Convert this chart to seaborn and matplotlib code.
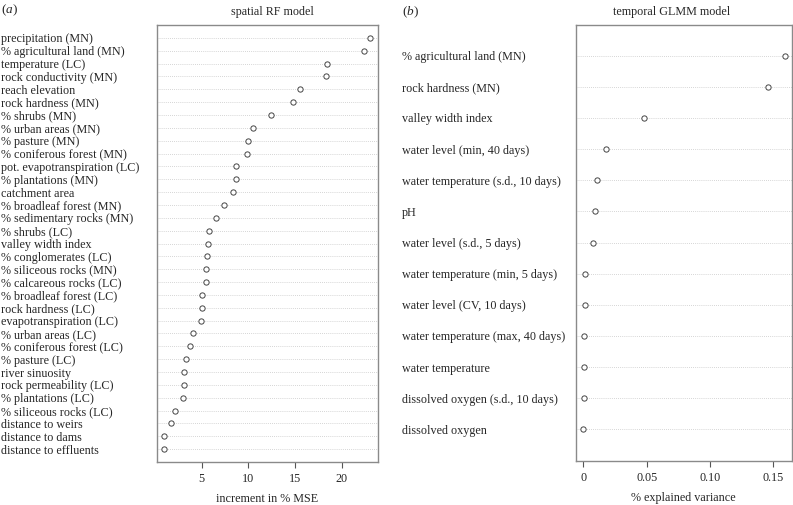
import numpy as np
import pandas as pd
import seaborn as sns
import matplotlib
matplotlib.use("Agg")
import matplotlib.pyplot as plt

sns.set_theme(style="white")
plt.rcParams['font.family'] = ['Liberation Serif', 'DejaVu Serif']
plt.rcParams['mathtext.fontset'] = 'custom'
plt.rcParams['mathtext.it'] = 'Liberation Serif:italic'
plt.rcParams['mathtext.rm'] = 'Liberation Serif'

FS = 8.7

# spatial RF model: increment in % MSE
rf_vars = ["precipitation (MN)", "% agricultural land (MN)", "temperature (LC)",
           "rock conductivity (MN)", "reach elevation", "rock hardness (MN)",
           "% shrubs (MN)", "% urban areas (MN)", "% pasture (MN)",
           "% coniferous forest (MN)", "pot. evapotranspiration (LC)",
           "% plantations (MN)", "catchment area", "% broadleaf forest (MN)",
           "% sedimentary rocks (MN)", "% shrubs (LC)", "valley width index",
           "% conglomerates (LC)", "% siliceous rocks (MN)", "% calcareous rocks (LC)",
           "% broadleaf forest (LC)", "rock hardness (LC)", "evapotranspiration (LC)",
           "% urban areas (LC)", "% coniferous forest (LC)", "% pasture (LC)",
           "river sinuosity", "rock permeability (LC)", "% plantations (LC)",
           "% siliceous rocks (LC)", "distance to weirs", "distance to dams",
           "distance to effluents"]
rf_mse = [23.0, 22.4, 18.4, 18.3, 15.5, 14.8, 12.4, 10.5, 10.0, 9.9, 8.7,
          8.65, 8.4, 7.4, 6.5, 5.8, 5.7, 5.55, 5.5, 5.45, 5.05, 5.0, 4.95,
          4.1, 3.7, 3.3, 3.1, 3.05, 2.95, 2.15, 1.7, 1.0, 0.93]

# temporal GLMM model: % explained variance
glmm_vars = ["% agricultural land (MN)", "rock hardness (MN)", "valley width index",
             "water level (min, 40 days)", "water temperature (s.d., 10 days)", "pH",
             "water level (s.d., 5 days)", "water temperature (min, 5 days)",
             "water level (CV, 10 days)", "water temperature (max, 40 days)",
             "water temperature", "dissolved oxygen (s.d., 10 days)", "dissolved oxygen"]
glmm_var = [0.159, 0.146, 0.048, 0.0179, 0.0105, 0.0092, 0.0074, 0.0013,
            0.0013, 0.0009, 0.0003, 0.0005, 0.0001]

df_rf = pd.DataFrame({"var": rf_vars, "val": rf_mse})
df_gl = pd.DataFrame({"var": glmm_vars, "val": glmm_var})

W, H = 793, 505
fig = plt.figure(figsize=(W / 100, H / 100), dpi=100)
ax1 = fig.add_axes([157 / W, 1 - 462 / H, 221 / W, 437 / H])
ax2 = fig.add_axes([575.7 / W, 1 - 460.5 / H, 216 / W, 436 / H])


def dotchart(ax, d, xlim, xticks, xticklabels, xlabel, label_x):
    n = len(d)
    sns.stripplot(data=d, x="val", y="var", order=list(d["var"]), jitter=False,
                  color="white", edgecolor="#444444", linewidth=0.7, size=3.8,
                  ax=ax, zorder=3)
    ax.set_ylim(n, -1)
    ax.set_xlim(*xlim)
    ax.set_xticks(xticks)
    ax.set_xticklabels(xticklabels)
    ax.set_xlabel(xlabel, fontsize=FS, labelpad=6)
    ax.set_ylabel("")
    ax.grid(axis="y", linestyle=(0, (1, 1.5)), color="#c8c8c8", linewidth=0.6)
    ax.grid(axis="x", visible=False)
    ax.set_axisbelow(True)
    for s in ax.spines.values():
        s.set_color("#8a8a8a")
        s.set_linewidth(1.0)
    ax_left_px = ax.get_position().x0 * W
    pad_pt = (ax_left_px - label_x) * 0.72
    ax.tick_params(axis="y", length=0, pad=pad_pt, labelsize=FS)
    for t in ax.get_yticklabels():
        t.set_ha("left")
    ax.tick_params(axis="x", length=4, width=0.8, color="#555555",
                   labelsize=FS, pad=4, direction="out", bottom=True)


dotchart(ax1, df_rf, (0.2, 23.9), [5, 10, 15, 20], ["5", "10", "15", "20"],
         "increment in % MSE", 1)
dotchart(ax2, df_gl, (-0.006, 0.1645), [0, 0.05, 0.10, 0.15],
         ["0", "0.05", "0.10", "0.15"], "% explained variance", 402)

fig.text(1 / W, 1 - 10 / H, r"($\mathit{a}$)", fontsize=9.5, va="center", ha="left")
fig.text(272 / W, 1 - 12 / H, "spatial RF model", fontsize=FS, va="center", ha="center")
fig.text(402 / W, 1 - 12 / H, r"($\mathit{b}$)", fontsize=9.5, va="center", ha="left")
fig.text(672 / W, 1 - 12 / H, "temporal GLMM model", fontsize=FS, va="center", ha="center")

fig.savefig("out.png", dpi=100)
